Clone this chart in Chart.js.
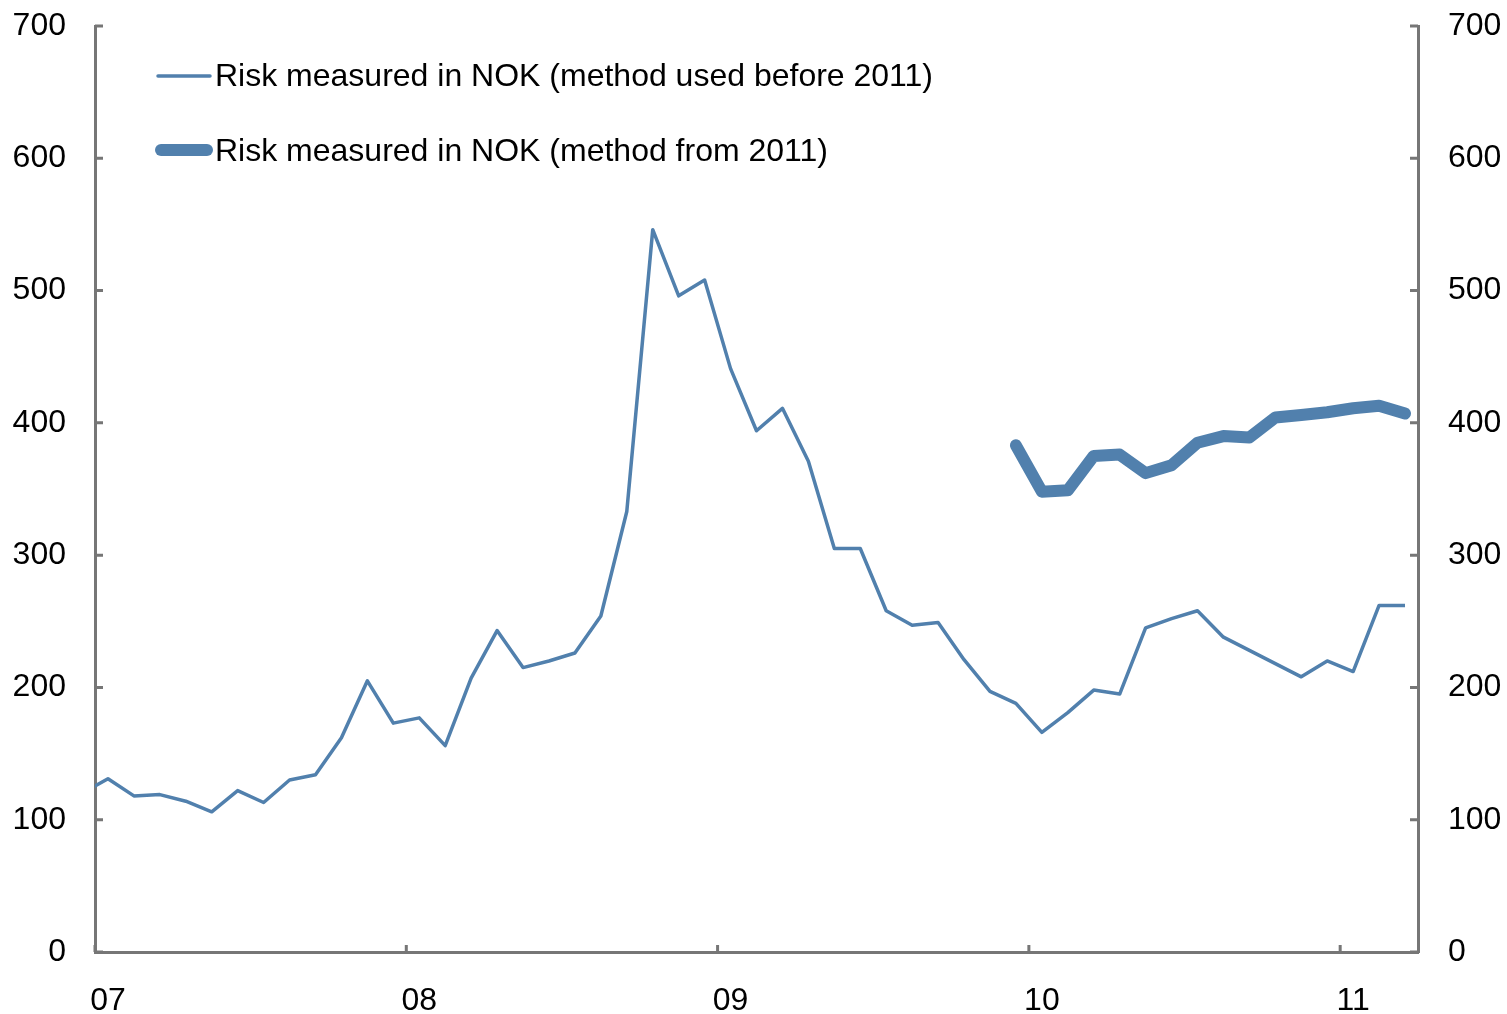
<!DOCTYPE html>
<html>
<head>
<meta charset="utf-8">
<title>Risk measured in NOK</title>
<script src="https://cdn.jsdelivr.net/npm/chart.js@4/dist/chart.umd.min.js"></script>
<style>
    html, body { margin: 0; padding: 0; background: #ffffff; }
    #wrap { width: 1507px; height: 1014px; position: relative; }
</style>
</head>
<body>
<div id="wrap"><canvas id="riskChart"></canvas></div>
<script>
// -------------------------------
// Data (monthly, Dec 2006 - Mar 2011)
// -------------------------------
const months = [
    "2006-12",
    "2007-01", "2007-02", "2007-03", "2007-04", "2007-05", "2007-06",
    "2007-07", "2007-08", "2007-09", "2007-10", "2007-11", "2007-12",
    "2008-01", "2008-02", "2008-03", "2008-04", "2008-05", "2008-06",
    "2008-07", "2008-08", "2008-09", "2008-10", "2008-11", "2008-12",
    "2009-01", "2009-02", "2009-03", "2009-04", "2009-05", "2009-06",
    "2009-07", "2009-08", "2009-09", "2009-10", "2009-11", "2009-12",
    "2010-01", "2010-02", "2010-03", "2010-04", "2010-05", "2010-06",
    "2010-07", "2010-08", "2010-09", "2010-10", "2010-11", "2010-12",
    "2011-01", "2011-02", "2011-03"
];

const riskOldMethod = [
    120,
    131, 118, 119, 114, 106, 122, 113, 130, 134, 162, 205, 173,
    177, 156, 207, 243, 215, 220, 226, 254, 333, 546, 496, 508,
    441, 394, 411, 371, 305, 305, 258, 247, 249, 221, 197, 188,
    166, 181, 198, 195, 245, 252, 258, 238, 228, 218, 208, 220,
    212, 262, 262
];

// ny metode starter i desember 2009
const newMethodStart = "2009-12";
const riskNewMethod = [
    383, 348, 349, 375, 376, 362, 368, 385, 390, 389, 404, 406,
    408, 411, 413, 407
];

const yearLabels = ["07", "08", "09", "10", "11"];
const yTicks = [0, 100, 200, 300, 400, 500, 600, 700];

const seriesNames = [
    "Risk measured in NOK (method used before 2011)",
    "Risk measured in NOK (method from 2011)"
];

// -------------------------------
// Hjelpere
// -------------------------------
const LINE_COLOR = "#5180ad";
const AXIS_COLOR = "#767676";
const FONT = "'Liberation Sans', Arial, sans-serif";
const FONT_SIZE = 32;

// x = antall måneder fra starten av 2007 (midt i måneden)
function monthToX(label) {
    const [y, m] = label.split("-").map(Number);
    return (y - 2007) * 12 + (m - 1) + 0.5;
}

function buildPoints() {
    const oldPts = months.map((m, i) => ({ x: monthToX(m), y: riskOldMethod[i] }));
    const startIdx = months.indexOf(newMethodStart);
    const newPts = riskNewMethod.map((v, i) => ({ x: monthToX(months[startIdx + i]), y: v }));
    return { oldPts, newPts };
}

// nullstill label-overflow slik at plottområdet styres av layout.padding
function fixPadding(axis) {
    axis.paddingTop = 0;
    axis.paddingBottom = 0;
    axis.paddingLeft = 0;
    axis.paddingRight = 0;
}

// -------------------------------
// Plugin: innvendige tick-merker og legend
// -------------------------------
const innerTicksPlugin = {
    id: "innerTicks",
    afterDraw(chart) {
        const ctx = chart.ctx;
        const area = chart.chartArea;
        const x = chart.scales.x;
        const yL = chart.scales.y;
        ctx.save();
        ctx.strokeStyle = AXIS_COLOR;
        ctx.lineWidth = 3;
        ctx.beginPath();
        yTicks.forEach(v => {
            const py = yL.getPixelForValue(v);
            ctx.moveTo(area.left, py);
            ctx.lineTo(area.left + 8, py);
            ctx.moveTo(area.right, py);
            ctx.lineTo(area.right - 8, py);
        });
        x.ticks.forEach(t => {
            const px = x.getPixelForValue(t.value);
            ctx.moveTo(px, area.bottom);
            ctx.lineTo(px, area.bottom - 7);
        });
        ctx.stroke();
        ctx.restore();
    }
};

const legendPlugin = {
    id: "customLegend",
    afterDatasetsDraw(chart) {
        const ctx = chart.ctx;
        ctx.save();
        ctx.strokeStyle = LINE_COLOR;
        ctx.lineCap = "round";

        ctx.lineWidth = 3.5;
        ctx.beginPath();
        ctx.moveTo(158, 76);
        ctx.lineTo(210, 76);
        ctx.stroke();

        ctx.lineWidth = 12;
        ctx.beginPath();
        ctx.moveTo(161, 150);
        ctx.lineTo(207, 150);
        ctx.stroke();

        ctx.fillStyle = "#000000";
        ctx.font = FONT_SIZE + "px " + FONT;
        ctx.textBaseline = "middle";
        ctx.textAlign = "left";
        ctx.fillText(seriesNames[0], 215, 77);
        ctx.fillText(seriesNames[1], 215, 152);
        ctx.restore();
    }
};

// -------------------------------
// Sett opp grafen
// -------------------------------
function setupChart() {
    const { oldPts, newPts } = buildPoints();
    const ctx = document.getElementById("riskChart").getContext("2d");

    const yCommon = (pos, width, pad) => ({
        type: "linear",
        position: pos,
        min: 0,
        max: 700,
        afterBuildTicks: axis => { axis.ticks = yTicks.map(v => ({ value: v })); },
        afterFit: axis => { axis.width = width; fixPadding(axis); },
        grid: { drawOnChartArea: false, drawTicks: false },
        border: { display: true, color: AXIS_COLOR, width: 3 },
        ticks: {
            color: "#000000",
            font: { family: FONT, size: FONT_SIZE },
            padding: pad
        }
    });

    return new Chart(ctx, {
        type: "line",
        data: {
            datasets: [
                {
                    label: seriesNames[0],
                    data: oldPts,
                    borderColor: LINE_COLOR,
                    borderWidth: 3.5,
                    borderJoinStyle: "round",
                    pointRadius: 0,
                    tension: 0,
                    clip: 0
                },
                {
                    label: seriesNames[1],
                    data: newPts,
                    borderColor: LINE_COLOR,
                    borderWidth: 12,
                    borderCapStyle: "round",
                    borderJoinStyle: "round",
                    pointRadius: 0,
                    tension: 0,
                    clip: 8
                }
            ]
        },
        options: {
            responsive: true,
            maintainAspectRatio: false,
            animation: false,
            layout: { padding: { top: 26, right: 0, bottom: 0, left: 0 } },
            plugins: {
                legend: { display: false },
                tooltip: { enabled: false }
            },
            scales: {
                x: {
                    type: "linear",
                    min: 0,
                    max: 51,
                    afterBuildTicks: axis => { axis.ticks = yearLabels.map((l, i) => ({ value: i * 12 })); },
                    afterFit: axis => { axis.height = 62; fixPadding(axis); },
                    grid: { drawOnChartArea: false, drawTicks: false },
                    border: { display: true, color: AXIS_COLOR, width: 3 },
                    ticks: {
                        color: "#000000",
                        font: { family: FONT, size: FONT_SIZE },
                        padding: 30,
                        labelOffset: 13,
                        maxRotation: 0,
                        autoSkip: false,
                        callback: v => yearLabels[v / 12]
                    }
                },
                y: yCommon("left", 95, 29),
                y2: yCommon("right", 89, 30)
            }
        },
        plugins: [innerTicksPlugin, legendPlugin]
    });
}

document.addEventListener("DOMContentLoaded", () => {
    setupChart();
});
</script>
</body>
</html>
